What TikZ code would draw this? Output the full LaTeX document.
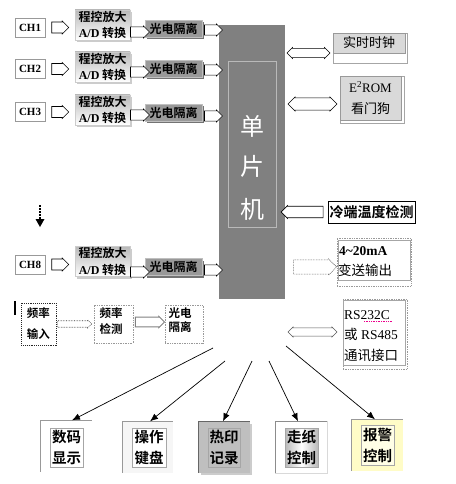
\documentclass[tikz,border=0pt]{standalone}
\usepackage{fontspec}
\setmainfont{Liberation Serif}
\newfontfamily\cjk{Noto Sans CJK SC}
\newfontfamily\cjkb{Noto Sans CJK SC Bold}
\usetikzlibrary{shapes.arrows,arrows.meta,shadows,calc}
\tikzset{
  chbox/.style={draw=gray!80, fill=white, minimum width=30pt, minimum height=19pt, inner sep=0pt, font=\bfseries\fontsize{11}{12}\selectfont},
  ampbox/.style={draw=gray!40, top color=gray!55, bottom color=white, minimum width=55pt, minimum height=30pt, inner sep=0pt, align=center, font=\cjkb\fontsize{12}{16.5}\selectfont, drop shadow={shadow xshift=2pt, shadow yshift=-2pt, fill=gray!40, opacity=1}},
  optobox/.style={draw=gray!50, fill=gray!80, minimum width=57pt, minimum height=17pt, inner sep=0pt, font=\cjkb\fontsize{12}{13}\selectfont, drop shadow={shadow xshift=2pt, shadow yshift=-2pt, fill=black!55, opacity=1}},
  rarr/.style={single arrow, draw=black, fill=white, line width=0.6pt, inner xsep=0pt, single arrow head extend=0.5pt},
  darr/.style={double arrow, draw=black, fill=white, line width=0.6pt, inner xsep=0pt, double arrow head extend=0.5pt},
  graybox/.style={draw=gray!80, fill=gray!30, inner sep=0pt, font=\cjk\fontsize{13}{21}\selectfont, align=center},
  plainout/.style={draw=gray!70, fill=white, inner sep=0pt},
  dotout/.style={draw=gray!80, densely dotted, line width=0.7pt, inner sep=0pt},
  inbox/.style={draw=gray!70, inner sep=0pt},
  smallcjk/.style={font=\cjkb\fontsize{11.5}{14}\selectfont, inner sep=0pt},
  botin/.style={draw=gray!70, inner sep=0pt, minimum height=39pt, align=center, font=\cjkb\fontsize{14.5}{21}\selectfont},
  botout/.style={inner sep=0pt, minimum width=51pt, minimum height=51pt},
  ptr/.style={line width=0.7pt, -{Latex[length=8pt,width=6.5pt]}}
}
\begin{document}
\begin{tikzpicture}[x=1pt,y=-1pt]
\useasboundingbox[fill=white] (0,0) rectangle (455,484);

% microcontroller
\node[fill=gray, minimum width=66pt, minimum height=274pt, inner sep=0pt] (mcu) at (252,162) {};
\node[draw=gray!55, minimum width=48pt, minimum height=166pt, inner sep=0pt] (mcuin) at (252,144) {};
\node[text=white, font=\cjk\fontsize{24}{24}\selectfont, inner sep=0pt] (m1) at (252,126) {单};
\node[text=white, font=\cjk\fontsize{24}{24}\selectfont, inner sep=0pt] (m2) at (252,166) {片};
\node[text=white, font=\cjk\fontsize{24}{24}\selectfont, inner sep=0pt] (m3) at (252,209) {机};

% input channels
\foreach \n/\lab/\cy/\ay/\oy/\py/\qy in {1/CH1/27.5/25/28.5/32/30, 2/CH2/69/67/68.5/72/70, 3/CH3/112/110/112.5/115/116, 8/CH8/264.5/261.5/267/272/270}{
  \node[chbox] (ch\n) at (30,\cy) {\lab};
  \node[ampbox] (amp\n) at (102.5,\ay) {程控放大\\{\rmfamily\bfseries A/D} 转换};
  \node[optobox] (opto\n) at (173.5,\oy) {光电隔离};
  \node[rarr, minimum height=17pt, minimum width=13pt, inner ysep=2.5pt] (a\n) at (57.5,\cy) {};
  \node[rarr, minimum height=19pt, minimum width=12pt, inner ysep=2.5pt] (b\n) at (137.5,\py) {};
  \node[rarr, minimum height=18pt, minimum width=12pt, inner ysep=2.5pt] (c\n) at (211,\qy) {};
}

% dotted "more channels" arrow
\coordinate (dtop) at (40,205);
\coordinate (dbot) at (40,219);
\coordinate (dtip) at (40,227);
\draw[line width=2.4pt, dash pattern=on 1.6pt off 1.4pt] (dtop) -- (dbot);
\fill ($(dbot)+(-4.5,0)$) -- ($(dbot)+(4.5,0)$) -- (dtip) -- cycle;
\draw[line width=1.5pt] (15,301) -- (15,315);

% right side peripherals
\node[plainout, minimum width=74pt, minimum height=30pt] (rtcout) at (370,48) {};
\node[graybox, minimum width=72pt, minimum height=20pt] (rtc) at (369,43) {实时时钟};
\node[darr, minimum height=43pt, minimum width=11pt, inner ysep=2.5pt] (r1) at (308.5,53) {};

\node[plainout, minimum width=64pt, minimum height=47pt] (eeout) at (372,99.5) {};
\node[graybox, minimum width=61pt, minimum height=44pt] (ee) at (370.5,98) {{\rmfamily E\textsuperscript{2}ROM}\\看门狗};
\node[darr, minimum height=49pt, minimum width=14pt, inner ysep=3pt] (r2) at (312.5,104) {};

\node[draw=black, fill=white, minimum width=87pt, minimum height=22pt, inner sep=0pt, font=\cjkb\fontsize{14}{14}\selectfont] (cold) at (371.5,212) {冷端温度检测};
\node[rarr, shape border rotate=180, minimum height=42pt, minimum width=13pt, inner ysep=3.5pt] (r3) at (305,212) {};

\node[dotout, minimum width=74pt, minimum height=48pt] (maout) at (374,262) {};
\node[inbox, minimum width=72pt, minimum height=40pt] (ma) at (374,260) {};
\node[anchor=west, inner sep=0pt, font=\rmfamily\bfseries\fontsize{13.5}{14}\selectfont] (ma1) at (339,251) {4\textasciitilde 20mA};
\node[anchor=west, inner sep=0pt, font=\cjk\fontsize{13.5}{14}\selectfont] (ma2) at (338,270) {变送输出};
\node[single arrow, draw=black!80, densely dotted, fill=white, line width=0.6pt, inner xsep=0pt, single arrow head extend=0.5pt, minimum height=43pt, minimum width=16pt, inner ysep=4pt] (r4) at (311.5,267) {};

\node[dotout, minimum width=64pt, minimum height=70pt] (rsout) at (375,334) {};
\node[inbox, minimum width=62pt, minimum height=65pt] (rs) at (374,332.5) {};
\node[anchor=west, inner sep=0pt, font=\rmfamily\fontsize{13.5}{14}\selectfont] (rs1) at (344,315) {RS232C};
\node[anchor=west, inner sep=0pt, font=\rmfamily\fontsize{13.5}{14}\selectfont] (rs2) at (344,334) {{\cjk 或} RS485};
\node[anchor=west, inner sep=0pt, font=\cjk\fontsize{13.5}{14}\selectfont] (rs3) at (344,355) {通讯接口};
\draw[magenta, densely dotted, line width=0.7pt] (364,321) -- (392,321);
\node[double arrow, draw=black!65, fill=white, line width=0.6pt, inner xsep=0pt, double arrow head extend=0.5pt, minimum height=49pt, minimum width=10pt, inner ysep=2pt] (r5) at (312.5,332) {};

% frequency input chain
\node[draw=black!85, densely dotted, line width=0.9pt, minimum width=35pt, minimum height=42pt, inner sep=0pt] (fin) at (38.5,324) {};
\node[smallcjk] (fin1) at (38.5,313) {频率};
\node[smallcjk] (fin2) at (38.5,334) {输入};
\node[dotout, minimum width=39pt, minimum height=38pt] (fdet) at (113.5,324) {};
\node[smallcjk] (fdet1) at (111,313) {频率};
\node[smallcjk] (fdet2) at (111,329) {检测};
\node[dotout, minimum width=38pt, minimum height=38pt] (fop) at (184,324) {};
\node[smallcjk] (fop1) at (180,313.5) {光电};
\node[smallcjk] (fop2) at (180,327) {隔离};
\node[single arrow, draw=black!80, densely dotted, fill=white, line width=0.6pt, inner xsep=0pt, single arrow head extend=0.5pt, minimum height=34pt, minimum width=8pt, inner ysep=2pt] (f1) at (73,324) {};
\node[rarr, draw=gray, line width=0.9pt, minimum height=29pt, minimum width=11pt, inner ysep=3pt] (f2) at (147.5,322) {};

% output devices
\node[botout] (d1) at (66,446) {};
\draw[gray!80] (d1.south west) -- (d1.north west) -- (d1.north east);
\node[botin, fill=white, minimum width=33pt] (i1) at (66.5,447.5) {数码\\显示};

\node[botout, fill=gray!7] (d2) at (147.5,447) {};
\draw[gray!80] (d2.south west) -- (d2.north west) -- (d2.north east);
\node[botin, fill=white, minimum width=34pt] (i2) at (149,447.5) {操作\\键盘};

\node[botout, fill=gray!50, drop shadow={shadow xshift=2pt, shadow yshift=-2pt, fill=gray!40, opacity=1}] (d3) at (224,447) {};
\draw[black!60] (d3.south west) -- (d3.north west) -- (d3.north east);
\node[botin, fill=gray!50, minimum width=32pt] (i3) at (224,447.5) {热印\\记录};

\node[botout, fill=white] (d4) at (301,447) {};
\draw[gray!30] (d4.north east) -- (d4.south east) -- (d4.south west);
\draw[gray!90] (d4.south west) -- (d4.north west) -- (d4.north east);
\node[botin, left color=gray!55, right color=gray!55, middle color=white, minimum width=33pt] (i4) at (301.5,447.5) {走纸\\控制};

\node[botout, fill=yellow!22] (d5) at (377,445) {};
\draw[gray!80] (d5.south west) -- (d5.north west) -- (d5.north east);
\node[botin, fill=yellow!10, minimum width=33pt, minimum height=40pt] (i5) at (377.5,445) {报警\\控制};

% connectors from the controller to the outputs
\coordinate (s1) at (213,348);
\coordinate (s2) at (225,361);
\coordinate (s3) at (252,361);
\coordinate (s4) at (269,361);
\coordinate (s5) at (286,346);
\draw[ptr] (s1) -- ($(d1.north)+(6,0)$);
\draw[ptr] (s2) -- ($(d2.north)+(2.5,0)$);
\draw[ptr] (s3) -- ($(d3.north)+(-1,0)$);
\draw[ptr] (s4) -- ($(d4.north)+(-3,0)$);
\draw[ptr] (s5) -- ($(d5.north)+(-2,0)$);
\end{tikzpicture}
\end{document}
